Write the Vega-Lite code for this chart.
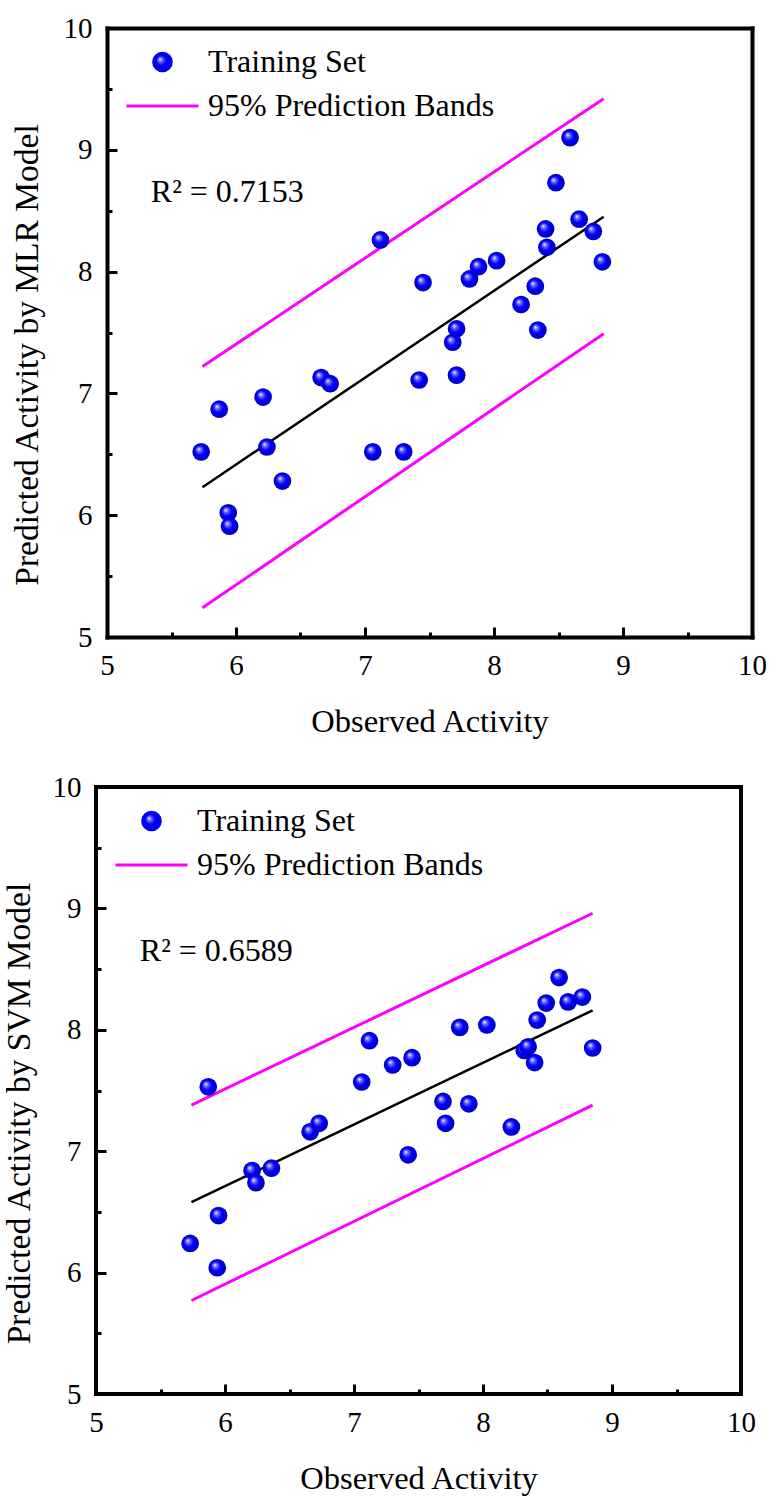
{
  "$schema": "https://vega.github.io/schema/vega-lite/v6.json",
  "padding": {"left": 0, "top": 14, "right": 0, "bottom": 5},
  "background": "white",
  "config": {
    "font": "Liberation Serif",
    "view": {"stroke": "black", "strokeWidth": 4},
    "axis": {
      "grid": false,
      "domain": false,
      "tickColor": "black",
      "tickWidth": 3,
      "labelFont": "Liberation Serif",
      "labelFontSize": 29,
      "labelColor": "black",
      "labelOverlap": false,
      "labelFlush": false,
      "titleFont": "Liberation Serif",
      "titleFontSize": 32.5,
      "titleFontWeight": "normal",
      "titleColor": "black"
    }
  },
  "datasets": {
    "points": [
      {"model": "MLR", "obs": 5.73, "pred": 6.52},
      {"model": "MLR", "obs": 5.87, "pred": 6.87},
      {"model": "MLR", "obs": 5.94, "pred": 6.02},
      {"model": "MLR", "obs": 5.95, "pred": 5.91},
      {"model": "MLR", "obs": 6.21, "pred": 6.97},
      {"model": "MLR", "obs": 6.24, "pred": 6.56},
      {"model": "MLR", "obs": 6.36, "pred": 6.28},
      {"model": "MLR", "obs": 6.66, "pred": 7.13},
      {"model": "MLR", "obs": 6.73, "pred": 7.08},
      {"model": "MLR", "obs": 7.06, "pred": 6.52},
      {"model": "MLR", "obs": 7.12, "pred": 8.26},
      {"model": "MLR", "obs": 7.30, "pred": 6.52},
      {"model": "MLR", "obs": 7.42, "pred": 7.11},
      {"model": "MLR", "obs": 7.45, "pred": 7.91},
      {"model": "MLR", "obs": 7.68, "pred": 7.42},
      {"model": "MLR", "obs": 7.71, "pred": 7.53},
      {"model": "MLR", "obs": 7.71, "pred": 7.15},
      {"model": "MLR", "obs": 7.81, "pred": 7.94},
      {"model": "MLR", "obs": 7.88, "pred": 8.04},
      {"model": "MLR", "obs": 8.02, "pred": 8.09},
      {"model": "MLR", "obs": 8.21, "pred": 7.73},
      {"model": "MLR", "obs": 8.32, "pred": 7.88},
      {"model": "MLR", "obs": 8.34, "pred": 7.52},
      {"model": "MLR", "obs": 8.40, "pred": 8.35},
      {"model": "MLR", "obs": 8.41, "pred": 8.20},
      {"model": "MLR", "obs": 8.48, "pred": 8.73},
      {"model": "MLR", "obs": 8.59, "pred": 9.10},
      {"model": "MLR", "obs": 8.66, "pred": 8.43},
      {"model": "MLR", "obs": 8.77, "pred": 8.33},
      {"model": "MLR", "obs": 8.84, "pred": 8.08},
      {"model": "SVM", "obs": 5.73, "pred": 6.24},
      {"model": "SVM", "obs": 5.87, "pred": 7.53},
      {"model": "SVM", "obs": 5.94, "pred": 6.04},
      {"model": "SVM", "obs": 5.95, "pred": 6.47},
      {"model": "SVM", "obs": 6.21, "pred": 6.84},
      {"model": "SVM", "obs": 6.24, "pred": 6.74},
      {"model": "SVM", "obs": 6.36, "pred": 6.86},
      {"model": "SVM", "obs": 6.66, "pred": 7.16},
      {"model": "SVM", "obs": 6.73, "pred": 7.23},
      {"model": "SVM", "obs": 7.06, "pred": 7.57},
      {"model": "SVM", "obs": 7.12, "pred": 7.91},
      {"model": "SVM", "obs": 7.30, "pred": 7.71},
      {"model": "SVM", "obs": 7.42, "pred": 6.97},
      {"model": "SVM", "obs": 7.45, "pred": 7.77},
      {"model": "SVM", "obs": 7.69, "pred": 7.41},
      {"model": "SVM", "obs": 7.71, "pred": 7.23},
      {"model": "SVM", "obs": 7.82, "pred": 8.02},
      {"model": "SVM", "obs": 7.89, "pred": 7.39},
      {"model": "SVM", "obs": 8.03, "pred": 8.04},
      {"model": "SVM", "obs": 8.22, "pred": 7.20},
      {"model": "SVM", "obs": 8.32, "pred": 7.83},
      {"model": "SVM", "obs": 8.35, "pred": 7.86},
      {"model": "SVM", "obs": 8.40, "pred": 7.73},
      {"model": "SVM", "obs": 8.42, "pred": 8.08},
      {"model": "SVM", "obs": 8.49, "pred": 8.22},
      {"model": "SVM", "obs": 8.59, "pred": 8.43},
      {"model": "SVM", "obs": 8.66, "pred": 8.23},
      {"model": "SVM", "obs": 8.77, "pred": 8.27},
      {"model": "SVM", "obs": 8.85, "pred": 7.85}
    ],
    "lines": [
      {"model": "MLR", "series": "fit", "obs": 5.74, "pred": 6.23},
      {"model": "MLR", "series": "fit", "obs": 8.85, "pred": 8.45},
      {"model": "MLR", "series": "upper", "obs": 5.74, "pred": 7.22},
      {"model": "MLR", "series": "upper", "obs": 8.85, "pred": 9.42},
      {"model": "MLR", "series": "lower", "obs": 5.74, "pred": 5.24},
      {"model": "MLR", "series": "lower", "obs": 8.85, "pred": 7.49},
      {"model": "SVM", "series": "fit", "obs": 5.74, "pred": 6.58},
      {"model": "SVM", "series": "fit", "obs": 8.85, "pred": 8.16},
      {"model": "SVM", "series": "upper", "obs": 5.74, "pred": 7.38},
      {"model": "SVM", "series": "upper", "obs": 8.85, "pred": 8.96},
      {"model": "SVM", "series": "lower", "obs": 5.74, "pred": 5.77},
      {"model": "SVM", "series": "lower", "obs": 8.85, "pred": 7.38}
    ],
    "notes": [
      {"model": "MLR", "label": "R² = 0.7153", "obs": 5.34, "pred": 8.57},
      {"model": "SVM", "label": "R² = 0.6589", "obs": 5.34, "pred": 8.57}
    ]
  },
  "resolve": {"scale": {"color": "independent"}, "legend": {"color": "independent"}},
  "columns": 1,
  "align": "none",
  "spacing": 33,
  "concat": [
    {
      "width": 656,
      "height": 609,
      "view": {"stroke": null},
      "resolve": {"axis": {"x": "independent", "y": "independent"}},
      "layer": [
        {
          "data": {"name": "lines"},
          "transform": [{"filter": "datum.model === 'MLR' && datum.series === 'fit'"}],
          "mark": {"type": "line", "color": "black", "strokeWidth": 2.5},
          "encoding": {
            "x": {
              "field": "obs", "type": "quantitative",
              "scale": {"domain": [5, 10], "range": [11, 656], "nice": false, "zero": false},
              "axis": {
                "orient": "bottom",
                "title": "Observed Activity",
                "titleX": 333.5,
                "domain": true, "domainWidth": 4, "domainColor": "black", "domainCap": "square",
                "values": [5, 5.5, 6, 6.5, 7, 7.5, 8, 8.5, 9, 9.5, 10],
                "labelExpr": "datum.value % 1 === 0 ? format(datum.value, 'd') : ''",
                "tickSize": {"condition": {"test": "datum.value % 1 === 0", "value": -10}, "value": -5},
                "labelPadding": 24,
                "titlePadding": 20
              }
            },
            "y": {
              "field": "pred", "type": "quantitative",
              "scale": {"domain": [5, 10], "nice": false, "zero": false},
              "axis": {
                "orient": "left",
                "offset": -11,
                "title": "Predicted Activity by MLR Model",
                "titleFontSize": 33.5,
                "titleY": 326.5,
                "domain": true, "domainWidth": 4, "domainColor": "black", "domainCap": "square",
                "values": [5, 5.5, 6, 6.5, 7, 7.5, 8, 8.5, 9, 9.5, 10],
                "labelExpr": "datum.value % 1 === 0 ? format(datum.value, 'd') : ''",
                "tickSize": {"condition": {"test": "datum.value % 1 === 0", "value": -10}, "value": -5},
                "labelPadding": 25,
                "titlePadding": 19
              }
            }
          }
        },
        {
          "data": {"name": "lines"},
          "transform": [{"filter": "datum.model === 'MLR' && datum.series !== 'fit'"}],
          "mark": {"type": "line", "strokeWidth": 3},
          "encoding": {
            "x": {
              "field": "obs", "type": "quantitative",
              "scale": {"domain": [5, 10], "range": [11, 656], "nice": false, "zero": false},
              "axis": {"orient": "top", "labels": false, "ticks": false, "title": null, "domain": true, "domainWidth": 4, "domainColor": "black", "domainCap": "square"}
            },
            "y": {
              "field": "pred", "type": "quantitative",
              "scale": {"domain": [5, 10], "nice": false, "zero": false},
              "axis": {"orient": "right", "labels": false, "ticks": false, "title": null, "domain": true, "domainWidth": 4, "domainColor": "black", "domainCap": "square"}
            },
            "detail": {"field": "series"},
            "color": {
              "datum": "95% Prediction Bands",
              "scale": {"domain": ["Training Set", "95% Prediction Bands"], "range": ["#0000ff", "#ff00ff"]},
              "legend": {
                "orient": "top-left", "offset": 14, "padding": 0, "title": null, "columns": 1,
                "labelFont": "Liberation Serif", "labelFontSize": 32, "labelColor": "black", "labelLimit": 400, "labelOffset": 8,
                "symbolSize": 5184, "symbolOffset": 15, "clipHeight": 40, "rowPadding": 4, "symbolStrokeWidth": 3,
                "encode": {"symbols": {"update": {
                  "shape": {"signal": "datum.value === 'Training Set' ? 'circle' : 'stroke'"},
                  "size": {"signal": "datum.value === 'Training Set' ? 314 : 5184"},
                  "fill": {"value": {"gradient": "radial", "x1": 0.35, "y1": 0.33, "r1": 0, "x2": 0.5, "y2": 0.5, "r2": 0.55, "stops": [{"offset": 0, "color": "#ffffff"}, {"offset": 0.22, "color": "#6a6aff"}, {"offset": 0.5, "color": "#0000ff"}, {"offset": 1, "color": "#0000b0"}]}},
                  "stroke": {"signal": "datum.value === 'Training Set' ? 'transparent' : '#ff00ff'"},
                  "strokeWidth": {"value": 3},
                  "opacity": {"value": 1}
                }}}
              }
            }
          }
        },
        {
          "data": {"name": "points"},
          "transform": [{"filter": "datum.model === 'MLR'"}],
          "mark": {"type": "point", "filled": true, "opacity": 1, "size": 314, "strokeWidth": 0,
            "fill": {"gradient": "radial", "x1": 0.35, "y1": 0.33, "r1": 0, "x2": 0.5, "y2": 0.5, "r2": 0.55, "stops": [{"offset": 0, "color": "#ffffff"}, {"offset": 0.22, "color": "#6a6aff"}, {"offset": 0.5, "color": "#0000ff"}, {"offset": 1, "color": "#0000b0"}]}},
          "encoding": {
            "x": {"field": "obs", "type": "quantitative", "scale": {"domain": [5, 10], "range": [11, 656], "nice": false, "zero": false}, "axis": null},
            "y": {"field": "pred", "type": "quantitative", "scale": {"domain": [5, 10], "nice": false, "zero": false}, "axis": null}
          }
        },
        {
          "data": {"name": "notes"},
          "transform": [{"filter": "datum.model === 'MLR'"}],
          "mark": {"type": "text", "align": "left", "baseline": "alphabetic", "fontSize": 32, "font": "Liberation Serif", "color": "black"},
          "encoding": {
            "x": {"field": "obs", "type": "quantitative", "scale": {"domain": [5, 10], "range": [11, 656], "nice": false, "zero": false}, "axis": null},
            "y": {"field": "pred", "type": "quantitative", "scale": {"domain": [5, 10], "nice": false, "zero": false}, "axis": null},
            "text": {"field": "label"}
          }
        }
      ]
    },
    {
      "width": 645,
      "height": 607,
      "encoding": {
        "x": {
          "field": "obs", "type": "quantitative",
          "scale": {"domain": [5, 10], "nice": false, "zero": false},
          "axis": {
            "title": "Observed Activity",
            "values": [5, 5.5, 6, 6.5, 7, 7.5, 8, 8.5, 9, 9.5, 10],
            "labelExpr": "datum.value % 1 === 0 ? format(datum.value, 'd') : ''",
            "tickSize": {"condition": {"test": "datum.value % 1 === 0", "value": -10}, "value": -5},
            "labelPadding": 24,
            "titlePadding": 20
          }
        },
        "y": {
          "field": "pred", "type": "quantitative",
          "scale": {"domain": [5, 10], "nice": false, "zero": false},
          "axis": {
            "title": "Predicted Activity by SVM Model",
            "titleFontSize": 33.5,
            "titleY": 326,
            "values": [5, 5.5, 6, 6.5, 7, 7.5, 8, 8.5, 9, 9.5, 10],
            "labelExpr": "datum.value % 1 === 0 ? format(datum.value, 'd') : ''",
            "tickSize": {"condition": {"test": "datum.value % 1 === 0", "value": -10}, "value": -5},
            "labelPadding": 25,
            "titlePadding": 16
          }
        }
      },
      "layer": [
        {
          "data": {"name": "lines"},
          "transform": [{"filter": "datum.model === 'SVM' && datum.series === 'fit'"}],
          "mark": {"type": "line", "color": "black", "strokeWidth": 2.5}
        },
        {
          "data": {"name": "lines"},
          "transform": [{"filter": "datum.model === 'SVM' && datum.series !== 'fit'"}],
          "mark": {"type": "line", "strokeWidth": 3},
          "encoding": {
            "detail": {"field": "series"},
            "color": {
              "datum": "95% Prediction Bands",
              "scale": {"domain": ["Training Set", "95% Prediction Bands"], "range": ["#0000ff", "#ff00ff"]},
              "legend": {
                "orient": "top-left", "offset": 14, "padding": 0, "title": null, "columns": 1,
                "labelFont": "Liberation Serif", "labelFontSize": 32, "labelColor": "black", "labelLimit": 400, "labelOffset": 8,
                "symbolSize": 5184, "symbolOffset": 4, "clipHeight": 40, "rowPadding": 4, "symbolStrokeWidth": 3,
                "encode": {"symbols": {"update": {
                  "shape": {"signal": "datum.value === 'Training Set' ? 'circle' : 'stroke'"},
                  "size": {"signal": "datum.value === 'Training Set' ? 314 : 5184"},
                  "fill": {"value": {"gradient": "radial", "x1": 0.35, "y1": 0.33, "r1": 0, "x2": 0.5, "y2": 0.5, "r2": 0.55, "stops": [{"offset": 0, "color": "#ffffff"}, {"offset": 0.22, "color": "#6a6aff"}, {"offset": 0.5, "color": "#0000ff"}, {"offset": 1, "color": "#0000b0"}]}},
                  "stroke": {"signal": "datum.value === 'Training Set' ? 'transparent' : '#ff00ff'"},
                  "strokeWidth": {"value": 3},
                  "opacity": {"value": 1}
                }}}
              }
            }
          }
        },
        {
          "data": {"name": "points"},
          "transform": [{"filter": "datum.model === 'SVM'"}],
          "mark": {"type": "point", "filled": true, "opacity": 1, "size": 314, "strokeWidth": 0,
            "fill": {"gradient": "radial", "x1": 0.35, "y1": 0.33, "r1": 0, "x2": 0.5, "y2": 0.5, "r2": 0.55, "stops": [{"offset": 0, "color": "#ffffff"}, {"offset": 0.22, "color": "#6a6aff"}, {"offset": 0.5, "color": "#0000ff"}, {"offset": 1, "color": "#0000b0"}]}}
        },
        {
          "data": {"name": "notes"},
          "transform": [{"filter": "datum.model === 'SVM'"}],
          "mark": {"type": "text", "align": "left", "baseline": "alphabetic", "fontSize": 32, "font": "Liberation Serif", "color": "black"},
          "encoding": {"text": {"field": "label"}}
        }
      ]
    }
  ]
}
